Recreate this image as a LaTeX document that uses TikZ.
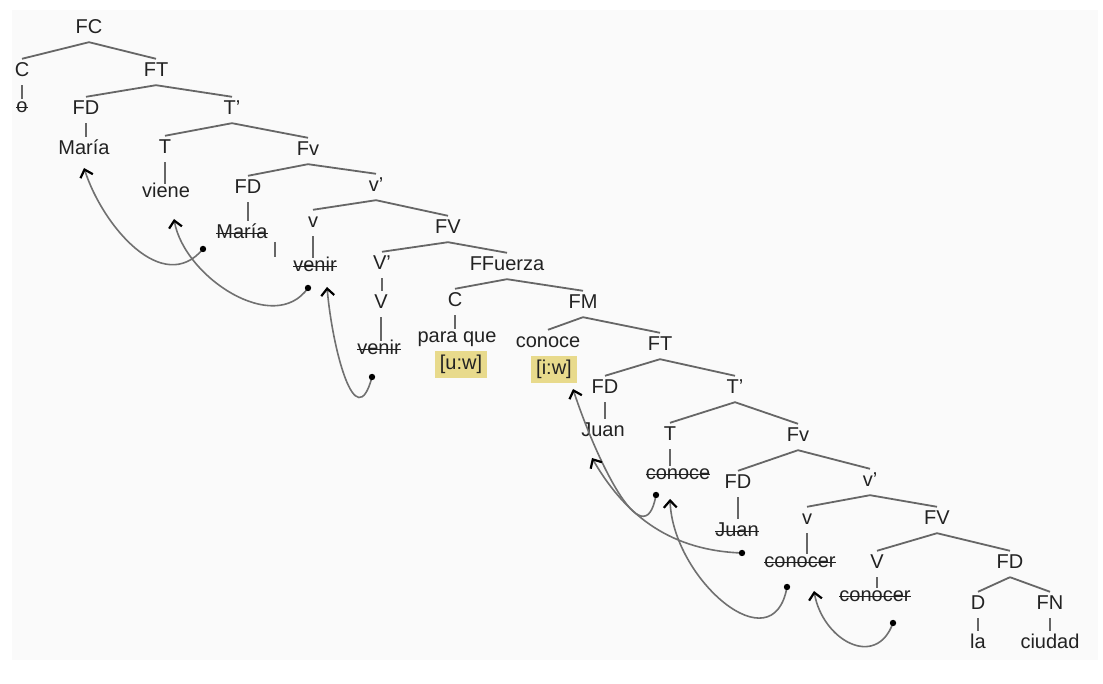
\documentclass[tikz,border=0pt]{standalone}
\usepackage{fontspec}
\setmainfont{Liberation Sans}
\usepackage{tikz}
\usetikzlibrary{arrows.meta,positioning}

\definecolor{tinta}{HTML}{222222}
\definecolor{gris}{HTML}{666666}
\definecolor{grisflecha}{HTML}{707070}
\definecolor{amarillo}{HTML}{E8DA8C}
\definecolor{fondo}{HTML}{FAFAFA}

% palabra tachada (copia borrada)
\newcommand{\tachar}[1]{\setbox0\hbox{#1}\rlap{\rule[0.25em]{\wd0}{0.07em}}\box0}

\begin{document}
\begin{tikzpicture}[x=1pt,y=1pt,
  cat/.style={inner xsep=2pt,inner ysep=4pt,text height=14pt,text depth=4pt,
    text=tinta,font=\fontsize{20}{24}\selectfont},
  rasgo/.style={cat,fill=amarillo,inner xsep=5pt,inner ysep=4.5pt},
  rama/.style={draw=gris,line width=1.8pt},
  mov/.style={draw=grisflecha,line width=1.6pt,
    -{Straight Barb[length=7pt,width=13pt,line width=2.2pt,color=black]}}]
\useasboundingbox (0,0) rectangle (1103,684);
\fill[fondo] (12,24) rectangle (1098,674);

% FC -- FT
\node[cat] (fc) at (89,655) {FC};
\node[cat] (c1) at (22,612) {C};
\node[cat] (ft1) at (156,612) {FT};
\node[cat] (nul) at (22,576) {\tachar{o}};
\node[cat] (fd1) at (86,574) {FD};
\node[cat] (tb1) at (232,574) {T’};
\node[cat] (maria1) at (84,534) {María};
\node[cat] (t1) at (165,535) {T};
\node[cat] (fv1) at (308,533) {Fv};
\node[cat] (viene) at (166,491) {viene};
\node[cat] (fd2) at (248,495) {FD};
\node[cat] (vb1) at (376,497) {v’};
\node[cat] (maria2) at (242,450) {\tachar{María}};
\node[cat] (v1) at (313,461) {v};
\node[cat] (fvv1) at (448,455) {FV};
\node[cat] (venir1) at (315,417) {\tachar{venir}};
\node[cat] (vb2) at (382,419) {V’};
\node[cat] (ffuerza) at (507,418) {FFuerza};
\node[cat] (vv1) at (381,380) {V};
\node[cat] (venir2) at (379,334) {\tachar{venir}};
\node[cat] (c2) at (455,382) {C};
\node[cat] (fm) at (583,380) {FM};
\node[cat] (paraque) at (457,346) {para que};
\node[rasgo,below=0pt of paraque,xshift=4pt] (uw) {[u:w]};
\node[cat] (conoce1) at (548,341) {conoce};
\node[rasgo,below=0pt of conoce1,xshift=6pt] (iw) {[i:w]};
% FT baja
\node[cat] (ft2) at (660,338) {FT};
\node[cat] (fd3) at (605,295) {FD};
\node[cat] (tb2) at (735,295) {T’};
\node[cat] (juan1) at (603,252) {Juan};
\node[cat] (t2) at (670,248) {T};
\node[cat] (fv2) at (798,247) {Fv};
\node[cat] (conoce2) at (678,209) {\tachar{conoce}};
\node[cat] (fd4) at (738,200) {FD};
\node[cat] (vb3) at (870,202) {v’};
\node[cat] (juan2) at (737,152) {\tachar{Juan}};
\node[cat] (v2) at (807,164) {v};
\node[cat] (fvv2) at (937,164) {FV};
\node[cat] (conocer1) at (800,121) {\tachar{conocer}};
\node[cat] (vv2) at (877,120) {V};
\node[cat] (fd5) at (1010,120) {FD};
\node[cat] (conocer2) at (875,87) {\tachar{conocer}};
\node[cat] (d) at (978,79) {D};
\node[cat] (fn) at (1050,79) {FN};
\node[cat] (la) at (978,40) {la};
\node[cat] (ciudad) at (1050,40) {ciudad};

% ramas
\foreach \p/\a/\b in {fc/c1/ft1, ft1/fd1/tb1, tb1/t1/fv1, fv1/fd2/vb1, vb1/v1/fvv1,
    fvv1/vb2/ffuerza, ffuerza/c2/fm, fm/conoce1/ft2, ft2/fd3/tb2, tb2/t2/fv2,
    fv2/fd4/vb3, vb3/v2/fvv2, fvv2/vv2/fd5, fd5/d/fn}{
  \draw[rama] (\p.south) -- (\a.north);
  \draw[rama] (\p.south) -- (\b.north);
}
% lineas unarias (minusculas: la linea baja hasta la altura x)
\foreach \p/\a/\e in {c1/nul/-4.5pt, fd1/maria1/0pt, t1/viene/-4.5pt, fd2/maria2/0pt,
    v1/venir1/-4.5pt, vb2/vv1/0pt, vv1/venir2/-4.5pt, c2/paraque/-4.5pt, fd3/juan1/0pt,
    t2/conoce2/-4.5pt, fd4/juan2/0pt, v2/conocer1/-4.5pt, vv2/conocer2/-4.5pt,
    d/la/0pt, fn/ciudad/0pt}
  \draw[rama,shorten >=\e] (\p.south) -- (\p.south |- \a.north);
\draw[rama] (275,442) -- (275,427);

% movimientos
\coordinate (d1) at (203,435); \coordinate (h1) at (84,516);
\coordinate (d2) at (308,396); \coordinate (h2) at (174,465);
\coordinate (d3) at (372,307); \coordinate (h3) at (327,397);
\coordinate (d4) at (656,189); \coordinate (h4) at (573,295);
\coordinate (d5) at (742,131); \coordinate (h5) at (592,226);
\coordinate (d6) at (787,97);  \coordinate (h6) at (670,185);
\coordinate (d7) at (893,61);  \coordinate (h7) at (814,93);
\draw[mov] (d1) to[out=-130,in=-72,looseness=1.1] (h1);
\draw[mov] (d2) to[out=-125,in=-80] (h2);
\draw[mov] (d3) to[out=-105,in=-85,looseness=1.6] (h3);
\draw[mov] (d4) to[out=-100,in=-72,looseness=1.3] (h4);
\draw[mov] (d5) to[out=178,in=-60] (h5);
\draw[mov] (d6) to[out=-100,in=-88,looseness=1.4] (h6);
\draw[mov] (d7) to[out=-110,in=-80,looseness=1.5] (h7);
\foreach \q in {d1,d2,d3,d4,d5,d6,d7}
  \fill (\q) circle (3.2pt);
\end{tikzpicture}
\end{document}
